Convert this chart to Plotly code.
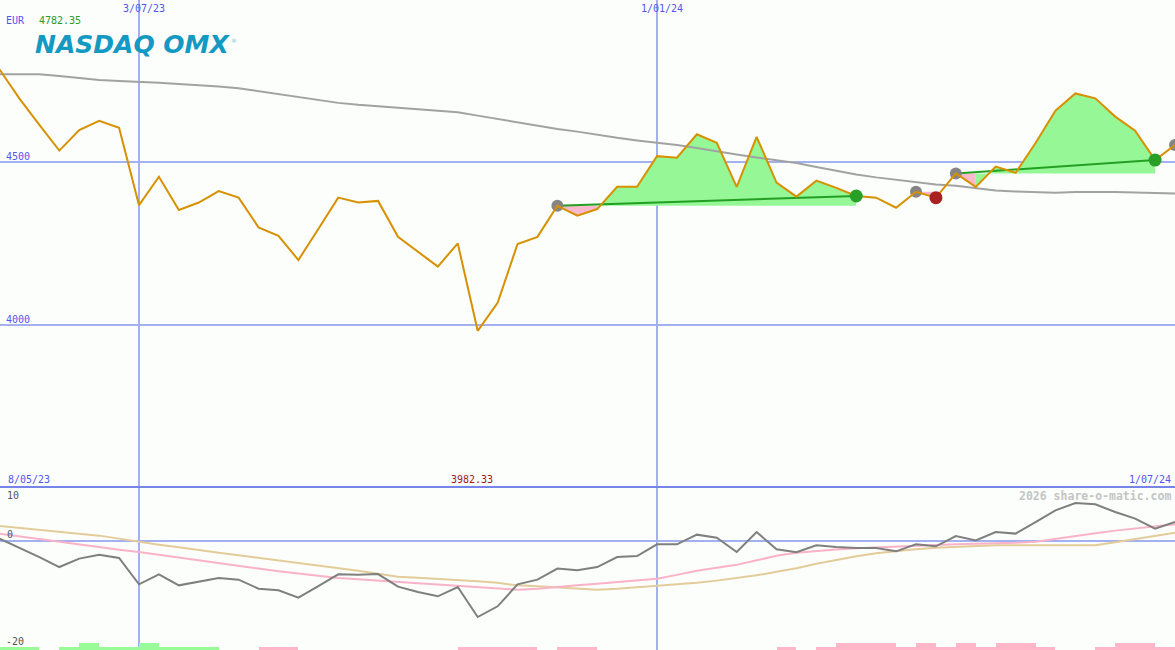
import plotly.graph_objects as go
import pandas as pd

# ---------------- data (weekly closes) ----------------
dates = pd.date_range("2023-05-15", periods=60, freq="7D")

close = [4782.35, 4693, 4613, 4534, 4597, 4625, 4604, 4367, 4454, 4352,
         4375, 4410, 4390, 4299, 4273, 4199, 4294, 4390, 4375, 4380,
         4270, 4224, 4179, 4250, 3982.33, 4068, 4248, 4270, 4365, 4335,
         4355, 4423, 4423, 4517, 4512, 4584, 4558, 4423, 4576, 4436,
         4393, 4442, 4420, 4395, 4390, 4359, 4408, 4390, 4464, 4423,
         4485, 4466, 4557, 4656, 4709, 4694, 4638, 4595, 4505, 4551]

ma_long = [4768, 4768, 4768, 4762, 4756, 4750, 4747, 4745, 4742, 4738,
           4735, 4730, 4725, 4716, 4706, 4698, 4690, 4680, 4674, 4669,
           4665, 4660, 4655, 4651, 4641, 4631, 4620, 4609, 4600, 4592,
           4582, 4573, 4565, 4559, 4551, 4542, 4531, 4522, 4513, 4504,
           4496, 4484, 4472, 4461, 4452, 4444, 4436, 4430, 4426, 4418,
           4412, 4409, 4406, 4405, 4407, 4408, 4407, 4406, 4404, 4403]

osc_gray = [0.5, -1.16, -2.89, -4.73, -3.18, -2.45, -3.07, -7.91, -6.07, -8.10,
            -7.36, -6.75, -7.05, -8.71, -9.02, -10.36, -8.23, -6.07, -6.13, -6.02,
            -8.34, -9.33, -10.12, -8.41, -13.93, -11.96, -7.91, -7.05, -5.02, -5.34,
            -4.73, -2.89, -2.71, -0.55, -0.55, 1.23, 0.68, -1.97, 1.71, -1.47,
            -1.99, -0.74, -1.05, -1.23, -1.23, -1.84, -0.55, -0.92, 0.98, 0.18,
            1.71, 1.42, 3.55, 5.71, 7.05, 6.81, 5.39, 4.18, 2.34, 3.55]

osc_pink = [1.42, 0.92, 0.42, -0.09, -0.64, -1.14, -1.56, -1.95, -2.48, -2.98,
            -3.50, -3.99, -4.47, -5.01, -5.49, -5.93, -6.35, -6.74, -6.99, -7.27,
            -7.49, -7.73, -7.95, -8.19, -8.41, -8.65, -8.89, -8.74, -8.37, -8.10,
            -7.82, -7.49, -7.18, -6.87, -6.17, -5.43, -4.88, -4.33, -3.50, -2.67,
            -2.12, -1.75, -1.51, -1.29, -1.10, -0.96, -0.79, -0.66, -0.55, -0.48,
            -0.42, -0.28, -0.09, 0.46, 1.01, 1.47, 1.97, 2.36, 2.76, 3.13]

osc_tan = [2.82, 2.48, 2.17, 1.84, 1.47, 1.05, 0.50, -0.09, -0.61, -1.10,
           -1.66, -2.12, -2.58, -3.04, -3.50, -3.96, -4.42, -4.88, -5.43, -5.98,
           -6.53, -6.72, -6.90, -7.10, -7.36, -7.64, -8.10, -8.28, -8.47, -8.74,
           -8.89, -8.74, -8.47, -8.15, -7.91, -7.64, -7.23, -6.81, -6.26, -5.61,
           -4.97, -4.14, -3.41, -2.76, -2.21, -1.79, -1.47, -1.20, -1.01, -0.79,
           -0.74, -0.74, -0.74, -0.74, -0.74, -0.74, -0.15, 0.40, 1.01, 1.60]

# signal bars at the bottom (one per week, positive = green, negative = pink)
signal = [0.5, 0.5, 0, 0.5, 1.2, 0.5, 0.5, 1.2, 0.5, 0.5,
          0.5, 0, 0, -0.5, -0.5, 0, 0, 0, 0, 0,
          0, 0, 0, -0.5, -0.5, -0.5, -0.5, 0, -0.5, -0.5,
          0, 0, 0, 0, 0, 0, 0, 0, 0, -0.5,
          0, -0.5, -1.2, -1.2, -1.2, -0.5, -1.2, -0.5, -1.2, -0.5,
          -1.2, -1.2, -0.5, 0, 0, -0.5, -1.2, -1.2, -0.5, 0]

# trades: entry week index, exit week index (None = still open)
trade_entry = [28, 46, 48, 59]
trade_exit = [43, 47, 58, None]

price_hi = 4782.35
price_lo = 3982.33
vline_dates = ["2023-07-03", "2024-01-01"]
top_labels = ["3/07/23", "1/01/24"]
price_ticks = [4000, 4500]
osc_ticks = [0]

# ---------------- styles ----------------
BG = "#fbfefb"
GRID = "#a3b1f3"
ORANGE = "#d79100"
W, H = 1175, 650
split = 163 / H  # lower panel height fraction

fig = go.Figure()

# signal bars
week_ms = 7 * 86400000
bar_x = [d + pd.Timedelta(days=3.5) for d in dates]
bar_col = ["#98fb98" if v > 0 else "#ffb6c8" for v in signal]
fig.add_trace(go.Bar(x=bar_x, y=[abs(v) for v in signal], base=-20, width=week_ms,
                     marker=dict(color=bar_col, line=dict(width=0)),
                     xaxis="x2", yaxis="y2", hoverinfo="skip"))

# oscillator lines
fig.add_trace(go.Scatter(x=dates, y=osc_tan, mode="lines", line=dict(color="#e3cc9a", width=2),
                         xaxis="x2", yaxis="y2"))
fig.add_trace(go.Scatter(x=dates, y=osc_pink, mode="lines", line=dict(color="#f9b2c8", width=2),
                         xaxis="x2", yaxis="y2"))
fig.add_trace(go.Scatter(x=dates, y=osc_gray, mode="lines", line=dict(color="#7f7f7f", width=2),
                         xaxis="x2", yaxis="y2"))

# trade fills (price vs. entry level), coloured by the end of each weekly segment
gx, gy, px_, py_ = [], [], [], []
for e, x in zip(trade_entry, trade_exit):
    if x is None:
        continue
    lvl = close[e]
    for i in range(e, x):
        xs = [dates[i], dates[i], dates[i + 1], dates[i + 1], dates[i], None]
        ys = [lvl, close[i], close[i + 1], lvl, lvl, None]
        if close[i + 1] >= lvl:
            gx += xs; gy += ys
        else:
            px_ += xs; py_ += ys
fig.add_trace(go.Scatter(x=gx, y=gy, mode="lines", fill="toself", fillcolor="#96f796",
                         line=dict(width=0, color="#96f796"), connectgaps=False))
fig.add_trace(go.Scatter(x=px_, y=py_, mode="lines", fill="toself", fillcolor="#f9b8cb",
                         line=dict(width=0, color="#f9b8cb"), connectgaps=False))

# long moving average
fig.add_trace(go.Scatter(x=dates, y=ma_long, mode="lines", line=dict(color="#a2a2a2", width=2)))

# trend lines of winning trades
for e, x in zip(trade_entry, trade_exit):
    if x is None or close[x] < close[e]:
        continue
    fig.add_trace(go.Scatter(x=[dates[e], dates[x]], y=[close[e], close[x]], mode="lines",
                             line=dict(color="#23a023", width=2)))

# entry markers
fig.add_trace(go.Scatter(x=[dates[e] for e in trade_entry], y=[close[e] for e in trade_entry],
                         mode="markers", marker=dict(color="#858585", size=12, line=dict(width=0))))

# price line
fig.add_trace(go.Scatter(x=dates, y=close, mode="lines", line=dict(color=ORANGE, width=2)))

# exit markers
ex_x, ex_y, ex_c = [], [], []
for e, x in zip(trade_entry, trade_exit):
    if x is None:
        continue
    ex_x.append(dates[x]); ex_y.append(close[x])
    ex_c.append("#28a028" if close[x] >= close[e] else "#a82020")
fig.add_trace(go.Scatter(x=ex_x, y=ex_y, mode="markers",
                         marker=dict(color=ex_c, size=13, line=dict(width=0))))

# ---------------- layout ----------------
xr = ["2023-05-15 03:50", "2024-07-01 00:00"]
axis_common = dict(showticklabels=False, ticks="", zeroline=False, showline=False)
fig.update_layout(
    width=W, height=H, margin=dict(l=0, r=0, t=0, b=0),
    paper_bgcolor=BG, plot_bgcolor=BG, showlegend=False, bargap=0,
    xaxis=dict(type="date", range=xr, domain=[0, 1], anchor="y", tickvals=vline_dates,
               showgrid=True, gridcolor=GRID, gridwidth=2, **axis_common),
    xaxis2=dict(type="date", range=xr, domain=[0, 1], anchor="y2", matches="x", tickvals=vline_dates,
                showgrid=True, gridcolor=GRID, gridwidth=2, **axis_common),
    yaxis=dict(domain=[split, 1], range=[3504.3, 4994.9], tickvals=price_ticks,
               showgrid=True, gridcolor=GRID, gridwidth=2, **axis_common),
    yaxis2=dict(domain=[0, split], range=[-20, 10], tickvals=osc_ticks,
                showgrid=True, gridcolor=GRID, gridwidth=2, **axis_common),
    shapes=[dict(type="line", xref="paper", yref="paper", x0=0, x1=1, y0=split, y1=split,
                 line=dict(color="#7585ea", width=2), layer="above")],
)

MONO = "DejaVu Sans Mono"
BLUE = "#5454ee"


def ann(text, xpx, ypx, color, size=10, anchor="left", family=MONO):
    fig.add_annotation(text=text, x=xpx / W, y=1 - ypx / H, xref="paper", yref="paper",
                       xanchor=anchor, yanchor="middle", showarrow=False,
                       font=dict(family=family, size=size, color=color))


ann("EUR", 4, 20, BLUE)
ann(f"{price_hi:.2f}", 37, 20, "#2a9a2a")
for lab, xp in zip(top_labels, [143.5, 661.5]):
    ann(lab, xp, 9, BLUE, anchor="center")
ann(str(price_ticks[1]), 4, 156, BLUE)
ann(str(price_ticks[0]), 4, 319, BLUE)
ann("8/05/23", 6, 479, BLUE)
ann(f"{price_lo:.2f}", 449, 479, "#a01818")
ann("1/07/24", 1173, 479, BLUE, anchor="right")
ann("<b>2026 share-o-matic.com</b>", 1173, 496, "#c4c4c4", size=11.5, anchor="right")
ann("10", 5, 495, "#555555")
ann("0", 5, 534, "#555555")
ann("-20", 4, 641, "#555555")
ann("<b><i>NASDAQ OMX</i></b>", 33, 45, "#1499c2", size=25, family="DejaVu Sans")
ann("®", 229, 40, "#7fc4dc", size=6, family="DejaVu Sans")

fig.write_html("out.html", config={"displayModeBar": False})

# remove the browser's default page margin so the chart fills the window
with open("out.html", encoding="utf-8") as f:
    page = f.read()
page = page.replace("<head>", "<head><style>html,body{margin:0;padding:0;overflow:hidden;}</style>", 1)
with open("out.html", "w", encoding="utf-8") as f:
    f.write(page)
